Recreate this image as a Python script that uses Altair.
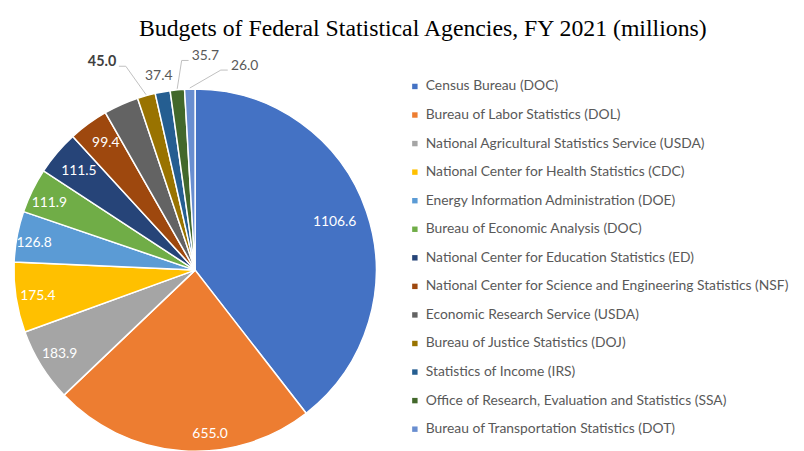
import altair as alt
import pandas as pd

TITLE = "Budgets of Federal Statistical Agencies, FY 2021 (millions)"

AGENCIES = [
    "Census Bureau (DOC)",
    "Bureau of Labor Statistics (DOL)",
    "National Agricultural Statistics Service (USDA)",
    "National Center for Health Statistics (CDC)",
    "Energy Information Administration (DOE)",
    "Bureau of Economic Analysis (DOC)",
    "National Center for Education Statistics (ED)",
    "National Center for Science and Engineering Statistics (NSF)",
    "Economic Research Service (USDA)",
    "Bureau of Justice Statistics (DOJ)",
    "Statistics of Income (IRS)",
    "Office of Research, Evaluation and Statistics (SSA)",
    "Bureau of Transportation Statistics (DOT)",
]
BUDGETS = [1106.6, 655.0, 183.9, 175.4, 126.8, 111.9, 111.5, 99.4, 87.0, 45.0, 37.4, 35.7, 26.0]
LABELS = ["1106.6", "655.0", "183.9", "175.4", "126.8", "111.9", "111.5", "99.4", "",
          "45.0", "37.4", "35.7", "26.0"]
COLORS = ["#4472C4", "#ED7D31", "#A5A5A5", "#FFC000", "#5B9BD5", "#70AD47", "#264478",
          "#9E480E", "#636363", "#997300", "#255E91", "#43682B", "#698ED0"]

# annotation layout (label radius in px, angular shift in degrees, style, leader line)
LABEL_RADIUS = [149, 166, 161, 161, 165, 162, 154, 157, 160, 230, 199, 216, 212]
LABEL_SHIFT = [0, -9.5, 0, -0.8, -1, -1.3, 0, 1, 0, -8.5, -0.3, 8.4, 15.3]
LABEL_STYLE = ["in"] * 9 + ["bold", "out", "out", "out"]
LEADER = [0] * 9 + [1, 0, 1, 1]

CX, CY, R = 189, 262.5, 183
HW = 17

df = pd.DataFrame({
    "idx": list(range(len(AGENCIES))),
    "agency": AGENCIES,
    "value": BUDGETS,
    "label": LABELS,
    "lr": LABEL_RADIUS,
    "shift": LABEL_SHIFT,
    "style": LABEL_STYLE,
    "leader": LEADER,
})

FONT = "Lato"

arcs = alt.Chart(df).mark_arc(outerRadius=R, stroke="white", strokeWidth=1.5).encode(
    theta=alt.Theta("value:Q", stack=True),
    order=alt.Order("idx:Q"),
    color=alt.Color(
        "agency:N",
        scale=alt.Scale(domain=AGENCIES, range=COLORS),
        legend=alt.Legend(
            title=None, orient="none", legendX=404, legendY=70,
            symbolType="square", symbolSize=30, symbolStrokeWidth=0,
            labelFont=FONT, labelFontSize=14, labelColor="#595959",
            rowPadding=14.85, labelOffset=4, padding=0, labelLimit=600,
        ),
    ),
    x=alt.value(CX),
    y=alt.value(CY),
)

geo = alt.Chart(df).transform_window(
    cum="sum(value)", sort=[alt.SortField("idx")], frame=[None, 0]
).transform_joinaggregate(
    total="sum(value)"
).transform_calculate(
    mid="(datum.cum - datum.value / 2) / datum.total * 2 * PI"
).transform_calculate(
    la="datum.mid + datum.shift * PI / 180"
).transform_calculate(
    lx=f"{CX} + datum.lr * sin(datum.la)",
    ly=f"{CY} - datum.lr * cos(datum.la)",
    ex=f"{CX} + {R + 1} * sin(datum.mid)",
    ey=f"{CY} - {R + 1} * cos(datum.mid)",
).transform_calculate(
    side="datum.lx < datum.ex ? 1 : -1"
).transform_calculate(
    hx1=f"datum.lx + datum.side * {HW}",
    hx2=f"datum.lx + datum.side * {HW + 7}",
    hy="datum.ly + 4",
)

X = lambda f: alt.X(f"{f}:Q", scale=None, axis=None)
Y = lambda f: alt.Y(f"{f}:Q", scale=None, axis=None)

lead = geo.transform_filter("datum.leader == 1")
rule1 = lead.mark_rule(color="#BFBFBF", strokeWidth=1).encode(
    x=X("ex"), y=Y("ey"), x2="hx2:Q", y2="hy:Q")
rule2 = lead.mark_rule(color="#BFBFBF", strokeWidth=1).encode(
    x=X("hx2"), y=Y("hy"), x2="hx1:Q", y2="hy:Q")

txt_in = geo.transform_filter("datum.style == 'in'").mark_text(
    font=FONT, fontSize=14, color="white", align="center", baseline="middle"
).encode(x=X("lx"), y=Y("ly"), text="label:N")
txt_out = geo.transform_filter("datum.style == 'out'").mark_text(
    font=FONT, fontSize=14, color="#595959", align="center", baseline="middle"
).encode(x=X("lx"), y=Y("ly"), text="label:N")
txt_bold = geo.transform_filter("datum.style == 'bold'").mark_text(
    font=FONT, fontSize=14.5, fontWeight="bold", color="#404040", align="center", baseline="middle"
).encode(x=X("lx"), y=Y("ly"), text="label:N")

title = alt.Chart(pd.DataFrame({"t": [TITLE]})).mark_text(
    font="Liberation Serif", fontSize=24, color="black", align="center", baseline="alphabetic"
).encode(text="t:N", x=alt.value(419), y=alt.value(26))

chart = alt.layer(arcs, rule1, rule2, txt_in, txt_out, txt_bold, title).properties(
    width=796, height=443, autosize=alt.AutoSizeParams(type="none"), padding=0
).configure_view(stroke=None)

chart.save("out.html", embed_options={"renderer": "svg", "actions": False})
